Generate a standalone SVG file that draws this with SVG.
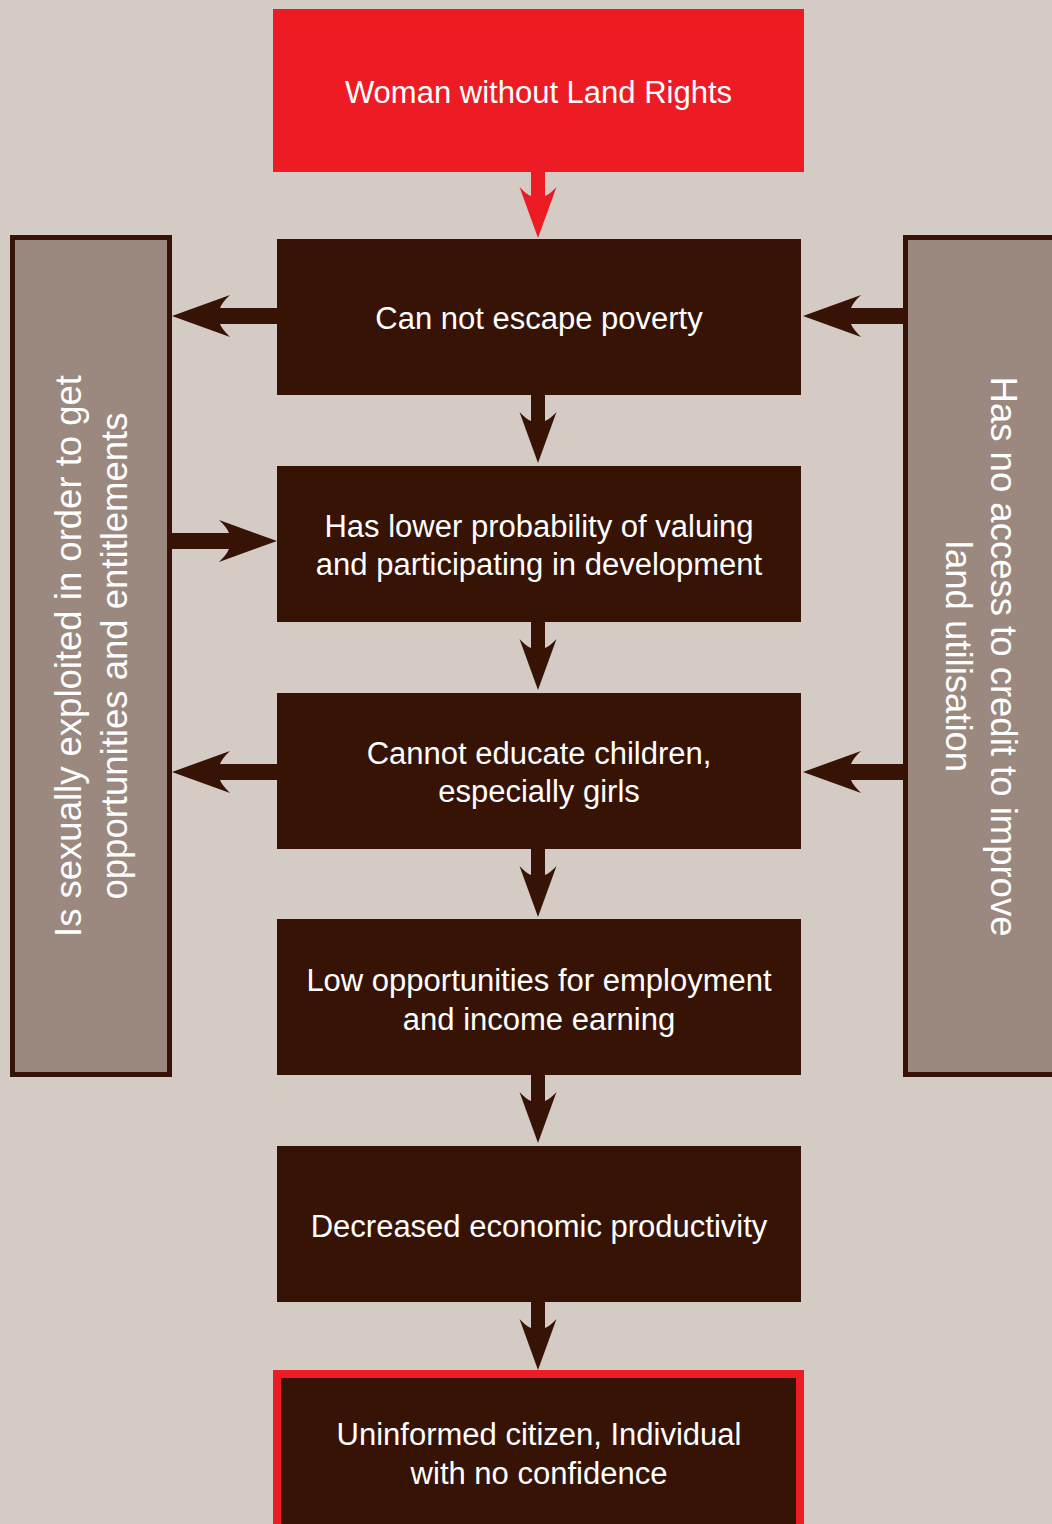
<svg xmlns="http://www.w3.org/2000/svg" width="1052" height="1524" viewBox="0 0 1052 1524">
<style>
.bg{fill:#d5cbc5}
.red{fill:#ed1c24}
.dark{fill:#371306}
.side{fill:#9b8980;stroke:#371306;stroke-width:5}
.out{fill:#371306;stroke:#ed1c24;stroke-width:8}
text{font-family:"Liberation Sans",Arial,sans-serif;fill:#ffffff;text-anchor:middle}
.t{font-size:31px}
.v{font-size:36.5px}
.c{fill:none;stroke:#371306}
.cr{fill:none;stroke:#ed1c24}
.vs{stroke-width:14}
.hs{stroke-width:16}
</style>
<defs>
<marker id="ah" viewBox="0 -20 52 40" refX="9" refY="0" markerWidth="3.714" markerHeight="2.857" orient="auto" markerUnits="strokeWidth">
<path d="M0,-18.5 L51,0 L0,18.5 Q7,12 9,7 L9,-7 Q7,-12 0,-18.5 Z" fill="#371306"/>
</marker>
<marker id="ahr" viewBox="0 -20 52 40" refX="9" refY="0" markerWidth="3.714" markerHeight="2.857" orient="auto" markerUnits="strokeWidth">
<path d="M0,-18.5 L51,0 L0,18.5 Q7,12 9,7 L9,-7 Q7,-12 0,-18.5 Z" fill="#ed1c24"/>
</marker>
</defs>
<rect class="bg" x="0" y="0" width="1052" height="1524"/>

<g id="connectors">
<line class="cr vs" x1="538" y1="172" x2="538" y2="196" marker-end="url(#ahr)"/>
<line class="c vs" x1="538" y1="395" x2="538" y2="421" marker-end="url(#ah)"/>
<line class="c vs" x1="538" y1="622" x2="538" y2="648" marker-end="url(#ah)"/>
<line class="c vs" x1="538" y1="849" x2="538" y2="875" marker-end="url(#ah)"/>
<line class="c vs" x1="538" y1="1075" x2="538" y2="1101" marker-end="url(#ah)"/>
<line class="c vs" x1="538" y1="1302" x2="538" y2="1328" marker-end="url(#ah)"/>
<line class="c hs" x1="277" y1="316" x2="220" y2="316" marker-end="url(#ah)"/>
<line class="c hs" x1="905" y1="316" x2="851" y2="316" marker-end="url(#ah)"/>
<line class="c hs" x1="170" y1="541" x2="229" y2="541" marker-end="url(#ah)"/>
<line class="c hs" x1="277" y1="772" x2="220" y2="772" marker-end="url(#ah)"/>
<line class="c hs" x1="905" y1="772" x2="851" y2="772" marker-end="url(#ah)"/>
</g>

<g id="n-start">
<rect class="red" x="273" y="9" width="531" height="163"/>
<text class="t" x="538.5" y="103">Woman without Land Rights</text>
</g>

<g id="n-poverty">
<rect class="dark" x="277" y="239" width="524" height="156"/>
<text class="t" x="539" y="329">Can not escape poverty</text>
</g>

<g id="n-development">
<rect class="dark" x="277" y="466" width="524" height="156"/>
<text class="t" x="539" y="537">Has lower probability of valuing</text>
<text class="t" x="539" y="575">and participating in development</text>
</g>

<g id="n-educate">
<rect class="dark" x="277" y="693" width="524" height="156"/>
<text class="t" x="539" y="764">Cannot educate children,</text>
<text class="t" x="539" y="802">especially girls</text>
</g>

<g id="n-employment">
<rect class="dark" x="277" y="919" width="524" height="156"/>
<text class="t" x="539" y="991">Low opportunities for employment</text>
<text class="t" x="539" y="1030">and income earning</text>
</g>

<g id="n-productivity">
<rect class="dark" x="277" y="1146" width="524" height="156"/>
<text class="t" x="539" y="1237">Decreased economic productivity</text>
</g>

<g id="n-citizen">
<rect class="out" x="277" y="1374" width="523" height="160"/>
<text class="t" x="539" y="1445">Uninformed citizen, Individual</text>
<text class="t" x="539" y="1484">with no confidence</text>
</g>

<g id="n-exploited">
<rect class="side" x="12.5" y="237.5" width="157" height="837"/>
<text class="v" transform="translate(81,656) rotate(-90)">Is sexually exploited in order to get</text>
<text class="v" transform="translate(127,656) rotate(-90)">opportunities and entitlements</text>
</g>

<g id="n-credit">
<rect class="side" x="905.5" y="237.5" width="170" height="837"/>
<text class="v" transform="translate(991,656.5) rotate(90)">Has no access to credit to improve</text>
<text class="v" transform="translate(946,656.5) rotate(90)">land utilisation</text>
</g>
</svg>
